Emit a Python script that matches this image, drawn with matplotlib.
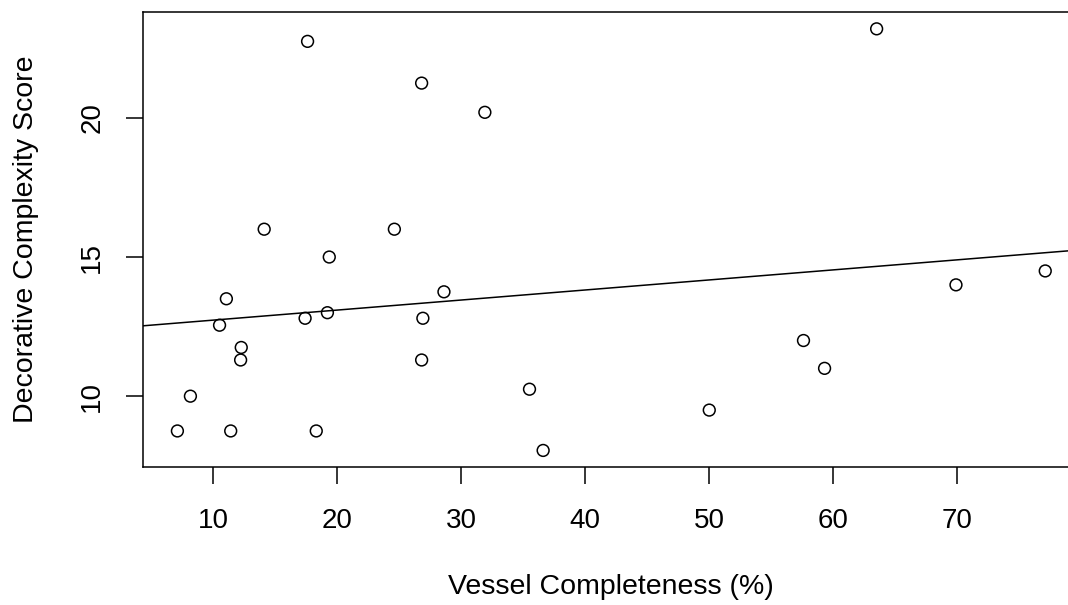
import matplotlib.pyplot as plt
import numpy as np

plt.rcParams['font.family'] = ['Liberation Sans', 'DejaVu Sans']

# completeness (%) and decorative complexity for each vessel
completeness = [7.1, 8.15, 10.5, 11.05, 11.4, 12.25, 12.2, 14.1, 17.6, 17.4,
                18.3, 19.2, 19.35, 24.6, 26.8, 26.9, 26.8, 28.6, 31.9, 35.5,
                36.6, 50.0, 57.6, 59.3, 63.5, 69.9, 77.1]
complexity = [8.75, 10.0, 12.55, 13.5, 8.75, 11.75, 11.3, 16.0, 22.75, 12.8,
              8.75, 13.0, 15.0, 16.0, 21.25, 12.8, 11.3, 13.75, 20.2, 10.25,
              8.05, 9.5, 12.0, 11.0, 23.2, 14.0, 14.5]
x_ticks = [10, 20, 30, 40, 50, 60, 70]
y_ticks = [10, 15, 20]

x = np.array(completeness)
y = np.array(complexity)

fig = plt.figure(figsize=(10.68, 6.05), dpi=100)
# box runs past the right edge of the figure, like the R device did
ax = fig.add_axes([0.1336, 0.2276, 0.8776, 0.7526])

ax.scatter(x, y, s=72, facecolors='none', edgecolors='black', linewidths=1.1, zorder=3)

slope, intercept = np.polyfit(x, y, 1)
ax.axline((0, intercept), slope=slope, color='black', lw=1.1)

# R style 4% padding
pad_x = 0.04 * (x.max() - x.min())
pad_y = 0.04 * (y.max() - y.min())
ax.set_xlim(x.min() - pad_x, x.max() + pad_x)
ax.set_ylim(y.min() - pad_y, y.max() + pad_y)

ax.set_xticks(x_ticks)
ax.set_yticks(y_ticks)
ax.tick_params(direction='out', length=12, width=1.1, labelsize=20)
ax.tick_params(axis='x', pad=17)
ax.tick_params(axis='y', pad=15)
for lab in ax.get_yticklabels():
    lab.set_rotation(90)
    lab.set_va('center')
for sp in ax.spines.values():
    sp.set_linewidth(1.1)

ax.set_xlabel('Vessel Completeness (%)', fontsize=20.5, labelpad=29)
ax.set_ylabel('Decorative Complexity Score', fontsize=20.5, labelpad=29)

fig.savefig('out.png', dpi=100)
